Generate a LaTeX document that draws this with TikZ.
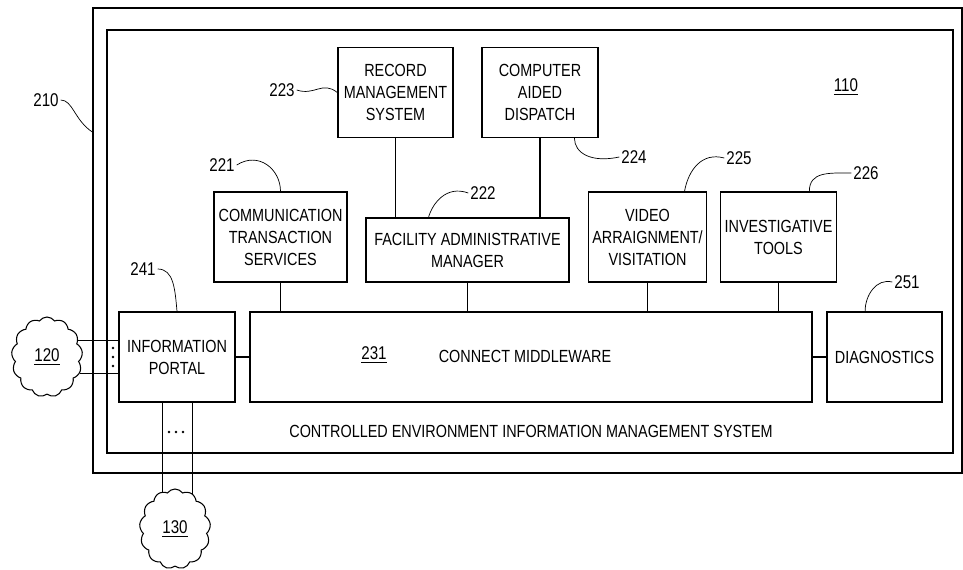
\documentclass[tikz,border=0pt]{standalone}
\usepackage{fontspec}
\setmainfont{Liberation Sans}[FakeStretch=0.82]
\usetikzlibrary{shapes.symbols, positioning, calc}
\tikzset{
  blockbox/.style={draw, thick, align=center, font=\fontsize{10}{12.5}\selectfont, inner sep=2pt, minimum width=2.3cm, minimum height=1.8cm},
  refnum/.style={font=\fontsize{10.5}{12}\selectfont, inner sep=1pt},
  leader/.style={thin},
  link/.style={semithick},
  netcloud/.style={draw, semithick, cloud, cloud puffs=13, cloud puff arc=110, cloud ignores aspect, minimum width=1.42cm, minimum height=1.6cm, inner sep=0pt, font=\fontsize{10.5}{12}\selectfont},
}

\begin{document}
\begin{tikzpicture}[x=0.2mm, y=-0.2mm]
  \useasboundingbox (0,0) rectangle (963,569);
  % system frames
  \node[draw, thick, minimum width=17.38cm, minimum height=9.3cm] (frame) at (527.5,240.5) {};
  \node[draw, thick, minimum width=16.92cm, minimum height=8.46cm] (cemis) at (530,241.5) {};
  \node[font=\fontsize{10}{12}\selectfont] (cemisname) at (531,431) {CONTROLLED ENVIRONMENT INFORMATION MANAGEMENT SYSTEM};
  \node[refnum] (cemisref) at (846,87) {\underline{110}};
  % blocks
  \node[blockbox] (rms) at (395.5,92.5) {RECORD\\MANAGEMENT\\SYSTEM};
  \node[blockbox, minimum width=2.32cm] (cad) at (540,92.5) {COMPUTER\\AIDED\\DISPATCH};
  \node[blockbox, minimum width=2.66cm] (cts) at (280.5,237) {COMMUNICATION\\TRANSACTION\\SERVICES};
  \node[blockbox, minimum width=4.06cm, minimum height=1.28cm] (fam) at (467.5,250) {FACILITY ADMINISTRATIVE\\MANAGER};
  \node[blockbox] (vav) at (647.5,237) {VIDEO\\ARRAIGNMENT/\\VISITATION};
  \node[blockbox, minimum width=2.32cm] (tools) at (778.5,237) {INVESTIGATIVE\\TOOLS};
  \node[blockbox, minimum width=2.32cm] (portal) at (177,357) {INFORMATION\\PORTAL};
  \node[blockbox, minimum width=11.24cm] (mw) at (531,357) {};
  \node[blockbox, minimum width=2.3cm] (diag) at (884.5,357) {DIAGNOSTICS};
  \node[refnum] (mwref) at (374,355) {\underline{231}};
  \node[font=\fontsize{10}{12}\selectfont] (mwname) at (525,356) {CONNECT MIDDLEWARE};
  % networks
  \node[netcloud] (net120) at (47,357) {\underline{120}};
  \node[netcloud] (net130) at (175,529) {\underline{130}};
  % links
  \draw[link] (rms.south) -- (rms.south |- fam.north);
  \draw[link] (cad.south) -- (cad.south |- fam.north);
  \draw[link] (cts.south) -- (cts.south |- mw.north);
  \draw[link] (fam.south) -- (fam.south |- mw.north);
  \draw[link] (vav.south) -- (vav.south |- mw.north);
  \draw[link] (tools.south) -- (tools.south |- mw.north);
  \draw[link] (portal.east) -- (mw.west);
  \draw[link] (mw.east) -- (diag.west);
  \draw[link] (net120.28) -- (net120.28 -| portal.west);
  \draw[link] (net120.-26) -- (net120.-26 -| portal.west);
  \draw[link] (net130.109 |- portal.south) -- (net130.109);
  \draw[link] (net130.64 |- portal.south) -- (net130.64);
  \foreach \dy in {348,357,366}
    \fill (113,\dy) circle (0.8pt);
  \foreach \dx in {169,176,183}
    \fill (\dx,432) circle (0.8pt);
  % reference numerals
  \node[refnum] (l210) at (46,100) {210};
  \node[refnum] (l223) at (282,90) {223};
  \node[refnum] (l221) at (222,165) {221};
  \node[refnum] (l222) at (483,193) {222};
  \node[refnum] (l224) at (634,157) {224};
  \node[refnum] (l225) at (739,158) {225};
  \node[refnum] (l226) at (866,173) {226};
  \node[refnum] (l251) at (907,282) {251};
  \node[refnum] (l241) at (143,269) {241};
  \draw[leader] (l210.east) .. controls +(12,0) and +(-18,-12) .. (frame.166);
  \draw[leader] (l223.east) .. controls +(18,6) and +(-15,-12) .. (rms.west);
  \draw[leader] (l221.east) .. controls +(22,-14) and +(0,-22) .. (cts.north);
  \draw[leader] (l222.west) .. controls +(-22,-8) and +(4,-14) .. (fam.140);
  \draw[leader] (l224.west) .. controls +(-28,6) and +(0,15) .. (cad.-53);
  \draw[leader] (l225.west) .. controls +(-22,-6) and +(4,-22) .. (vav.51);
  \draw[leader] (l226.west) .. controls +(-22,0) and +(0,-20) .. (tools.56);
  \draw[leader] (l251.west) .. controls +(-16,-4) and +(0,-16) .. (diag.113);
  \draw[leader] (l241.east) .. controls +(16,0) and +(-2,-22) .. (portal.north);
\end{tikzpicture}
\end{document}
